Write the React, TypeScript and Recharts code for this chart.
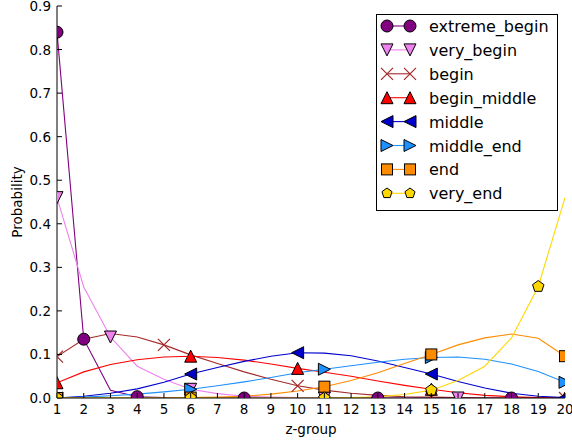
import React from "react";
import { LineChart, Line, XAxis, YAxis, Legend, Label } from "recharts";

// z-group 1..20
const zGroup = [1, 2, 3, 4, 5, 6, 7, 8, 9, 10, 11, 12, 13, 14, 15, 16, 17, 18, 19, 20];
const yTicks = [0, 0.1, 0.2, 0.3, 0.4, 0.5, 0.6, 0.7, 0.8, 0.9];

const extremeBegin = [0.84, 0.135, 0.018, 0.003, 0.001, 0, 0, 0, 0, 0, 0, 0, 0, 0, 0, 0, 0, 0, 0, 0];
const veryBegin = [0.46, 0.255, 0.14, 0.073, 0.043, 0.02, 0.01, 0.004, 0.002, 0.001, 0, 0, 0, 0, 0, 0, 0, 0, 0, 0];
const begin = [0.095, 0.135, 0.148, 0.14, 0.122, 0.099, 0.079, 0.06, 0.043, 0.028, 0.018, 0.011, 0.006, 0.003, 0.002, 0.001, 0, 0, 0, 0];
const beginMiddle = [0.035, 0.06, 0.077, 0.088, 0.094, 0.096, 0.093, 0.087, 0.078, 0.068, 0.059, 0.05, 0.039, 0.029, 0.02, 0.012, 0.006, 0.003, 0.001, 0];
const middle = [0, 0.004, 0.011, 0.021, 0.036, 0.055, 0.07, 0.084, 0.096, 0.104, 0.103, 0.097, 0.085, 0.07, 0.055, 0.038, 0.023, 0.011, 0.004, 0.001];
const middleEnd = [0, 0.002, 0.005, 0.009, 0.014, 0.02, 0.028, 0.037, 0.047, 0.058, 0.066, 0.074, 0.082, 0.089, 0.093, 0.094, 0.089, 0.078, 0.061, 0.036];
const end = [0, 0, 0, 0, 0, 0.001, 0.002, 0.004, 0.009, 0.016, 0.026, 0.04, 0.058, 0.079, 0.1, 0.122, 0.138, 0.147, 0.137, 0.096];
const veryEnd = [0, 0, 0, 0, 0, 0, 0, 0, 0, 0, 0, 0.001, 0.003, 0.008, 0.018, 0.04, 0.073, 0.138, 0.256, 0.46];

// z-groups where a marker is drawn
const extremeBeginMarks = [1, 2, 4, 8, 13, 18];
const veryBeginMarks = [1, 3, 6, 11, 16];
const beginMarks = [1, 5, 10, 15, 20];
const beginMiddleMarks = [1, 6, 10, 15, 20];
const middleMarks = [1, 6, 10, 15, 20];
const middleEndMarks = [1, 6, 11, 15, 20];
const endMarks = [1, 6, 11, 15, 20];
const veryEndMarks = [1, 6, 11, 15, 19];

const series = [
  { key: "extreme_begin", values: extremeBegin, marks: extremeBeginMarks, color: "#800080", shape: "circle" },
  { key: "very_begin", values: veryBegin, marks: veryBeginMarks, color: "#EE82EE", shape: "tdown" },
  { key: "begin", values: begin, marks: beginMarks, color: "#A52A2A", shape: "x" },
  { key: "begin_middle", values: beginMiddle, marks: beginMiddleMarks, color: "#FF0000", shape: "tup" },
  { key: "middle", values: middle, marks: middleMarks, color: "#0000CD", shape: "tleft" },
  { key: "middle_end", values: middleEnd, marks: middleEndMarks, color: "#1E90FF", shape: "tright" },
  { key: "end", values: end, marks: endMarks, color: "#FF8C00", shape: "square" },
  { key: "very_end", values: veryEnd, marks: veryEndMarks, color: "#FFD700", shape: "pentagon" },
];

const data = zGroup.map((z, i) => {
  const row: Record<string, number> = { z };
  series.forEach((s) => (row[s.key] = s.values[i]));
  return row;
});

const FONT = "'DejaVu Sans', sans-serif";
const W = 572;
const H = 442;
const M = { top: 6, right: 7, left: 57, bottom: 44 };

function Marker({ shape, x, y, color, r = 6 }: { shape: string; x: number; y: number; color: string; r?: number }) {
  const edge = { fill: color, stroke: "#000", strokeWidth: 1 };
  const poly = (pts: number[][]) => <polygon points={pts.map((p) => p.join(",")).join(" ")} {...edge} />;
  switch (shape) {
    case "circle":
      return <circle cx={x} cy={y} r={r} {...edge} />;
    case "tdown":
      return poly([[x, y + r], [x - r, y - r], [x + r, y - r]]);
    case "tup":
      return poly([[x, y - r], [x - r, y + r], [x + r, y + r]]);
    case "tleft":
      return poly([[x - r, y], [x + r, y - r], [x + r, y + r]]);
    case "tright":
      return poly([[x + r, y], [x - r, y - r], [x - r, y + r]]);
    case "square":
      return <rect x={x - r + 0.5} y={y - r + 0.5} width={2 * r - 1} height={2 * r - 1} {...edge} />;
    case "pentagon": {
      const pts = [0, 1, 2, 3, 4].map((k) => {
        const a = ((-90 + 72 * k) * Math.PI) / 180;
        return [x + r * Math.cos(a), y + r * Math.sin(a)];
      });
      return poly(pts);
    }
    default:
      return (
        <g stroke={color} strokeWidth={1.2}>
          <line x1={x - r} y1={y - r} x2={x + r} y2={y + r} />
          <line x1={x - r} y1={y + r} x2={x + r} y2={y - r} />
        </g>
      );
  }
}

// markers are clipped to the axes box (nested svg hides overflow), like matplotlib
const makeDot = (s: (typeof series)[number]) => (props: any) => {
  const { cx, cy, index } = props;
  const k = `${s.key}-${index}`;
  if (!s.marks.includes(zGroup[index]) || cx == null || cy == null) return <g key={k} />;
  const pw = W - M.left - M.right;
  const ph = H - M.top - M.bottom;
  return (
    <svg key={k} x={M.left} y={M.top} width={pw} height={ph} overflow="hidden">
      <g transform={`translate(${-M.left},${-M.top})`}>
        <Marker shape={s.shape} x={cx} y={cy} color={s.color} />
      </g>
    </svg>
  );
};

const BottomTick = ({ x, y, payload }: any) => (
  <g>
    <line x1={x} x2={x} y1={y} y2={y - 5} stroke="#000" />
    <text x={x} y={y + 16} textAnchor="middle" fontSize={13.5} fontFamily={FONT} fill="#000">
      {payload.value}
    </text>
  </g>
);
const TopTick = ({ x, y }: any) => <line x1={x} x2={x} y1={y} y2={y + 5} stroke="#000" />;
const LeftTick = ({ x, y, payload }: any) => (
  <g>
    <line x1={x} x2={x + 5} y1={y} y2={y} stroke="#000" />
    <text x={x - 6} y={y + 5} textAnchor="end" fontSize={13.5} fontFamily={FONT} fill="#000">
      {Number(payload.value).toFixed(1)}
    </text>
  </g>
);
const RightTick = ({ x, y }: any) => <line x1={x} x2={x - 5} y1={y} y2={y} stroke="#000" />;

function LegendBox() {
  return (
    <svg width={182} height={197} style={{ display: "block" }}>
      <rect x={0.5} y={0.5} width={181} height={196} fill="#fff" stroke="#000" />
      {series.map((s, i) => {
        const cy = 12 + i * 23.9;
        const r = s.shape === "pentagon" ? 5.3 : 6;
        return (
          <g key={s.key}>
            <line x1={11} x2={34} y1={cy} y2={cy} stroke={s.color} strokeWidth={1.1} />
            <Marker shape={s.shape} x={11} y={cy} color={s.color} r={r} />
            <Marker shape={s.shape} x={34} y={cy} color={s.color} r={r} />
            <text x={53} y={cy + 6} fontSize={16} fontFamily={FONT} fill="#000">
              {s.key}
            </text>
          </g>
        );
      })}
    </svg>
  );
}

export default function App() {
  return (
    <div style={{ position: "absolute", left: 0, top: 0, background: "#fff" }}>
      <LineChart
        width={W}
        height={H}
        data={data}
        margin={{ top: M.top, right: M.right, bottom: 0, left: 0 }}
        style={{ fontFamily: FONT }}
      >
        <XAxis
          xAxisId="bottom"
          dataKey="z"
          type="number"
          domain={[1, 20]}
          ticks={zGroup}
          interval={0}
          allowDataOverflow
          height={M.bottom}
          tickSize={0}
          tickMargin={0}
          tickLine={false}
          axisLine={{ stroke: "#000" }}
          tick={(p: any) => <BottomTick {...p} />}
        >
          <Label
            content={({ viewBox }: any) => (
              <text
                x={viewBox.x + viewBox.width / 2}
                y={viewBox.y + 36}
                textAnchor="middle"
                fontSize={13.5}
                fontFamily={FONT}
                fill="#000"
              >
                z-group
              </text>
            )}
          />
        </XAxis>
        <XAxis
          xAxisId="top"
          orientation="top"
          dataKey="z"
          type="number"
          domain={[1, 20]}
          ticks={zGroup}
          interval={0}
          allowDataOverflow
          height={0}
          tickSize={0}
          tickMargin={0}
          tickLine={false}
          axisLine={{ stroke: "#000" }}
          tick={(p: any) => <TopTick {...p} />}
        />
        <YAxis
          yAxisId="left"
          type="number"
          domain={[0, 0.9]}
          ticks={yTicks}
          interval={0}
          allowDataOverflow
          width={M.left}
          tickSize={0}
          tickMargin={0}
          tickLine={false}
          axisLine={{ stroke: "#000" }}
          tick={(p: any) => <LeftTick {...p} />}
        >
          <Label
            content={({ viewBox }: any) => {
              const cy = viewBox.y + viewBox.height / 2;
              return (
                <text
                  x={22}
                  y={cy}
                  transform={`rotate(-90, 22, ${cy})`}
                  textAnchor="middle"
                  fontSize={13.5}
                  fontFamily={FONT}
                  fill="#000"
                >
                  Probability
                </text>
              );
            }}
          />
        </YAxis>
        <YAxis
          yAxisId="right"
          orientation="right"
          type="number"
          domain={[0, 0.9]}
          ticks={yTicks}
          interval={0}
          allowDataOverflow
          width={0}
          tickSize={0}
          tickMargin={0}
          tickLine={false}
          axisLine={{ stroke: "#000" }}
          tick={(p: any) => <RightTick {...p} />}
        />
        {series.map((s) => (
          <Line
            key={s.key}
            xAxisId="bottom"
            yAxisId="left"
            type="linear"
            dataKey={s.key}
            stroke={s.color}
            strokeWidth={1.1}
            dot={makeDot(s)}
            activeDot={false}
            isAnimationActive={false}
          />
        ))}
        <Legend
          layout="vertical"
          align="center"
          verticalAlign="middle"
          wrapperStyle={{ left: 376, top: 14, width: 182, height: 197 }}
          content={() => <LegendBox />}
        />
      </LineChart>
    </div>
  );
}
